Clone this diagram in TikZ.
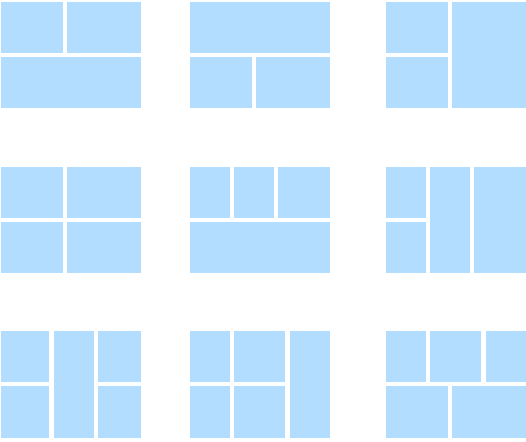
\documentclass[tikz,border=0pt]{standalone}
\usepackage{tikz}
\usepackage{xcolor}
\definecolor{tileblue}{RGB}{179,221,254}

\begin{document}
\begin{tikzpicture}[x=1pt, y=-1pt, tile/.style={fill=tileblue}]
\useasboundingbox (0,0) rectangle (526,441);

% Layout 1: two over one
\begin{scope}[shift={(1,2)}]
\fill[tile] (0,0) rectangle (62,51); \fill[tile] (66,0) rectangle (140,51);
\fill[tile] (0,55) rectangle (140,106);
\end{scope}

% Layout 2: one over two
\begin{scope}[shift={(190,2)}]
\fill[tile] (0,0) rectangle (140,51);
\fill[tile] (0,55) rectangle (62,106); \fill[tile] (66,55) rectangle (140,106);
\end{scope}

% Layout 3: two beside one tall
\begin{scope}[shift={(386,2)}]
\fill[tile] (0,0) rectangle (62,51); \fill[tile] (0,55) rectangle (62,106);
\fill[tile] (66,0) rectangle (140,106);
\end{scope}

% Layout 4: two by two
\begin{scope}[shift={(1,167)}]
\fill[tile] (0,0) rectangle (62,51); \fill[tile] (66,0) rectangle (140,51);
\fill[tile] (0,55) rectangle (62,106); \fill[tile] (66,55) rectangle (140,106);
\end{scope}

% Layout 5: three over one
\begin{scope}[shift={(190,167)}]
\fill[tile] (0,0) rectangle (40,51); \fill[tile] (44,0) rectangle (84,51);
\fill[tile] (88,0) rectangle (140,51);
\fill[tile] (0,55) rectangle (140,106);
\end{scope}

% Layout 6: split column and two tall
\begin{scope}[shift={(386,167)}]
\fill[tile] (0,0) rectangle (40,51); \fill[tile] (0,55) rectangle (40,106);
\fill[tile] (44,0) rectangle (84,106); \fill[tile] (88,0) rectangle (140,106);
\end{scope}

% Layout 7: tall column in the middle
\begin{scope}[shift={(1,331)}]
\fill[tile] (0,0) rectangle (48,51); \fill[tile] (0,55) rectangle (48,107);
\fill[tile] (53,0) rectangle (93,107);
\fill[tile] (97,0) rectangle (140,51); \fill[tile] (97,55) rectangle (140,107);
\end{scope}

% Layout 8: two by two and a tall one
\begin{scope}[shift={(190,331)}]
\fill[tile] (0,0) rectangle (40,51); \fill[tile] (44,0) rectangle (95,51);
\fill[tile] (0,55) rectangle (40,107); \fill[tile] (44,55) rectangle (95,107);
\fill[tile] (100,0) rectangle (140,107);
\end{scope}

% Layout 9: three over two
\begin{scope}[shift={(386,331)}]
\fill[tile] (0,0) rectangle (40,51); \fill[tile] (44,0) rectangle (95,51);
\fill[tile] (100,0) rectangle (140,51);
\fill[tile] (0,55) rectangle (62,107); \fill[tile] (66,55) rectangle (140,107);
\end{scope}
\end{tikzpicture}
\end{document}
